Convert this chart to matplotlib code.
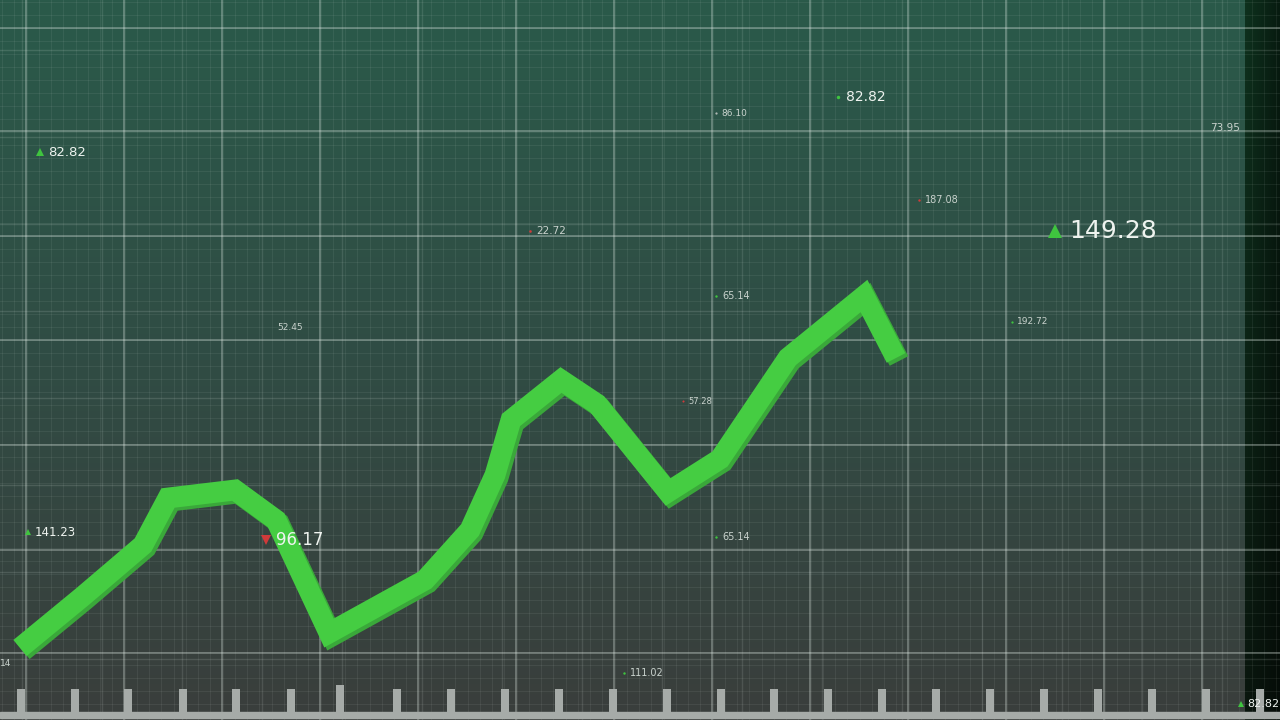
import numpy as np
import matplotlib
matplotlib.use("Agg")
import matplotlib.pyplot as plt

# ---------------- data ----------------
# main price line (x position along time axis, value measured upward)
line_x = [20, 82, 143, 168, 235, 276, 329, 425, 470, 495, 511, 561, 597, 668, 720, 788, 864, 896]
line_v = [72, 123, 175, 222, 230, 200, 87, 140, 190, 245, 300, 340, 316, 228, 261, 362, 424, 362]

# floating ticker labels
label_text = ["82.82", "86.10", "82.82", "73.95", "187.08", "22.72", "149.28", "192.72",
              "65.14", "52.45", "57.28", "65.14", "141.23", "96.17", "111.02", "14", "82.82"]
label_x = [48, 721, 846, 1210, 925, 536, 1069, 1017, 722, 277, 688, 722, 35, 276, 630, 0, 1247]
label_v = [568, 607, 623, 592, 520, 489, 489, 398, 424, 393, 319, 183, 188, 180, 47, 57, 16]
label_size = [9.5, 6.5, 10, 7.5, 7, 7.5, 18, 6.5, 7, 6.5, 6, 7, 8.5, 12, 7, 6.5, 8]
label_mark = ["^", ".", ".", "", ".", ".", "^", ".", ".", "", ".", ".", "^", "v", ".", "", "^"]
label_mcol = ["#3fc43f", "#b0b8b4", "#3fc43f", "#3fc43f", "#d03a3a", "#d03a3a", "#3fc43f", "#3fc43f",
              "#3fc43f", "#3fc43f", "#d03a3a", "#3fc43f", "#3fc43f", "#d03a3a", "#3fc43f", "#3fc43f", "#3fc43f"]

# bottom time-axis bars
tick_x = [21, 75, 128, 183, 236, 291, 340, 397, 451, 505, 559, 613, 667, 721, 774,
          828, 882, 936, 990, 1044, 1098, 1152, 1206, 1260]
tick_h = [23, 23, 23, 23, 23, 23, 27, 23, 23, 23, 23, 23, 23, 23, 23,
          23, 23, 23, 23, 23, 23, 23, 23, 23]

W, H = 1280, 720

fig = plt.figure(figsize=(12.8, 7.2), dpi=100)
ax = fig.add_axes([0, 0, 1, 1])
ax.set_xlim(0, W)
ax.set_ylim(0, H)
ax.axis("off")

# ---------------- background ----------------
yy = np.linspace(0, 1, H)[:, None]          # 0 top -> 1 bottom
xx = np.linspace(0, 1, W)[None, :]
top = np.array([42, 90, 74]) / 255
mid = np.array([48, 76, 68]) / 255
bot = np.array([58, 62, 60]) / 255
t = yy[..., None]
col = np.where(t < 0.5, top + (mid - top) * (t / 0.5), mid + (bot - mid) * ((t - 0.5) / 0.5))
col = np.broadcast_to(col, (H, W, 3)).copy()
# right dark strip
strip = (xx >= 1245 / W)[0]
s_top = np.array([14, 50, 30]) / 255
s_bot = np.array([10, 22, 14]) / 255
scol = s_top + (s_bot - s_top) * t
fade = np.clip((xx - 1245 / W) / (35 / W), 0, 1)[..., None]
scol2 = scol * (1 - 0.45 * fade)
col[:, strip, :] = np.broadcast_to(scol2, (H, W, 3))[:, strip, :]
ax.imshow(col, extent=[0, W, 0, H], aspect="auto", zorder=0, origin="upper")

# ---------------- grids ----------------
gc = "#e6f0ea"
for x in np.arange(2, W, 12.25):
    ax.axvline(x, color=gc, alpha=0.07, lw=0.8, zorder=1)
for y in np.arange(2, H, 13.0):
    ax.axhline(H - y, color=gc, alpha=0.07, lw=0.8, zorder=1)
for x in np.arange(22, W, 80):
    ax.axvline(x, color=gc, alpha=0.12, lw=1.0, zorder=1)
for y in [50, 137, 224, 311, 398, 485, 572, 659]:
    ax.axhline(H - y, color=gc, alpha=0.14, lw=1.0, zorder=1)
for x in np.arange(26, W, 98):
    ax.axvline(x, color=gc, alpha=0.36, lw=1.2, zorder=1)
for y in [28, 131, 236, 340, 445, 550, 653]:
    ax.axhline(H - y, color=gc, alpha=0.36, lw=1.2, zorder=1)

# ---------------- bottom axis bars ----------------
ax.bar(tick_x, tick_h, bottom=8, width=8, color="#a6aba8", zorder=3)
ax.axhspan(2, 8, color="#a6aba8", zorder=3)

# ---------------- price line ----------------
lx = np.array(line_x, float)
lv = np.array(line_v, float)
ax.plot(lx + 3, lv - 3, color="#3aa83a", lw=15, solid_capstyle="butt",
        solid_joinstyle="miter", zorder=4)
ax.plot(lx, lv, color="#45cd42", lw=15, solid_capstyle="butt",
        solid_joinstyle="miter", zorder=5)

# ---------------- labels ----------------
for txt, x, v, s, m, mc in zip(label_text, label_x, label_v, label_size, label_mark, label_mcol):
    tc = "#eef3ef" if s >= 8 else "#c9d2cd"
    ax.text(x, v, txt, fontsize=s, color=tc, ha="left", va="center",
            family="DejaVu Sans", zorder=6, clip_on=True)
    if m:
        ms = s * 0.55 if m in "^v" else s * 0.5
        ax.plot([x - s * 0.8], [v], marker=m, color=mc, ms=ms, mew=0, zorder=6)

fig.savefig("out.png", dpi=100)
